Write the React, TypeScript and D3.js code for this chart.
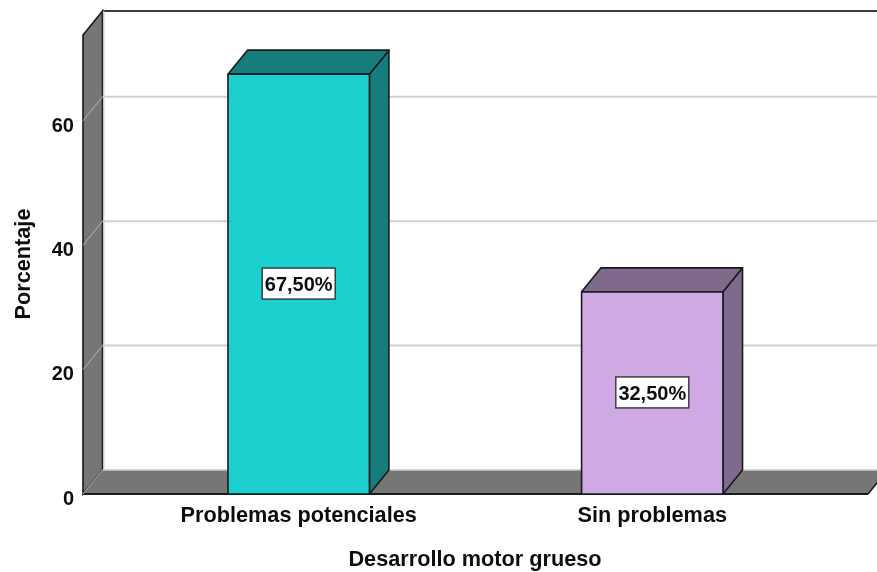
import React from "react";
import * as d3 from "d3";

const categories = ["Problemas potenciales", "Sin problemas"];
const values = [67.5, 32.5];
const valueLabels = ["67,50%", "32,50%"];
const frontColors = ["#1CCFCF", "#CEA9E4"];
const darkColors = ["#147B7B", "#806A8C"];
const yTicks = [0, 20, 40, 60];
const yMax = 73.8;
const gridTicks = [20, 40, 60];

const W = 877, H = 572;
const left = 83, right = 868, bottom = 494;
const dx = 19.5, dy = -24;

const y = d3.scaleLinear().domain([0, yMax]).range([bottom, bottom - yMax * 6.22]);
const x = d3.scaleBand<string>().domain(categories).range([left, right]).paddingInner(0.6).paddingOuter(0.41);
const line = d3.line();
const poly = (p: [number, number][]) => line(p)! + "Z";
const font = "'Liberation Sans', Arial, sans-serif";
const wall = "#767676";
const stroke = "#141c1c";

export default function App() {
  const top = y(yMax);
  return (
    <svg width={W} height={H} viewBox={`0 0 ${W} ${H}`} style={{ position: "absolute", left: 0, top: 0, background: "#fff" }} fontFamily={font}>
      <defs>
        <filter id="soft" x="-2%" y="-2%" width="104%" height="104%">
          <feGaussianBlur stdDeviation="0.35" />
        </filter>
      </defs>
      <g filter="url(#soft)">
        <path d={poly([[left + dx, bottom + dy], [left + dx, top + dy], [right + dx, top + dy], [right + dx, bottom + dy]])} fill="#fff" stroke="none" />
        <line x1={left + dx} x2={W + 20} y1={top + dy} y2={top + dy} stroke="#3a3a3a" strokeWidth={2} />
        {/* left wall */}
        <path d={poly([[left, bottom], [left, top], [left + dx, top + dy], [left + dx, bottom + dy]])} fill={wall} stroke={stroke} strokeWidth={1.6} />
        <line x1={left + dx + 1.2} x2={left + dx + 1.2} y1={top + dy} y2={bottom + dy} stroke="#c8c8c8" strokeWidth={1.5} />
        {/* floor */}
        <path d={poly([[left, bottom], [left + dx, bottom + dy], [right + dx, bottom + dy], [right, bottom]])} fill={wall} stroke="none" />
        <line x1={left + dx} x2={W + 20} y1={bottom + dy} y2={bottom + dy} stroke="#c8c8c8" strokeWidth={1.5} />
        <line x1={left} x2={right} y1={bottom} y2={bottom} stroke={stroke} strokeWidth={2} />
        <line x1={right} x2={right + dx} y1={bottom} y2={bottom + dy} stroke={stroke} strokeWidth={1.5} />
        <line x1={left} x2={left + dx} y1={bottom} y2={bottom + dy} stroke="#b0b0b0" strokeWidth={1} />
        {/* gridlines */}
        {gridTicks.map((t) => (
          <g key={t}>
            <line x1={left + dx} x2={W + 20} y1={y(t) + dy} y2={y(t) + dy} stroke="#d0d0d0" strokeWidth={2} />
            <line x1={left} x2={left + dx} y1={y(t)} y2={y(t) + dy} stroke="#b4b4b4" strokeWidth={1} />
          </g>
        ))}
        {/* bars */}
        {categories.map((c, i) => {
          const x0 = x(c)!;
          const x1 = x0 + x.bandwidth();
          const yt = y(values[i]);
          return (
            <g key={c} stroke={stroke} strokeWidth={1.6} strokeLinejoin="round">
              <path d={poly([[x1, bottom], [x1, yt], [x1 + dx, yt + dy], [x1 + dx, bottom + dy]])} fill={darkColors[i]} />
              <path d={poly([[x0, yt], [x0 + dx, yt + dy], [x1 + dx, yt + dy], [x1, yt]])} fill={darkColors[i]} />
              <rect x={x0} y={yt} width={x.bandwidth()} height={bottom - yt} fill={frontColors[i]} />
            </g>
          );
        })}
        {/* value labels */}
        {categories.map((c, i) => {
          const cx = x(c)! + x.bandwidth() / 2;
          const cy = y(values[i] / 2) - 0.5;
          return (
            <g key={c}>
              <rect x={cx - 36.5} y={cy - 15.5} width={73} height={31} fill="#fff" stroke="#333" strokeWidth={1.4} />
              <text x={cx} y={cy} dy="0.36em" textAnchor="middle" fontSize={20} fontWeight={700} fill="#111">{valueLabels[i]}</text>
            </g>
          );
        })}
        {/* y ticks */}
        {yTicks.map((t) => (
          <text key={t} x={74} y={y(t) + 3.5} dy="0.36em" textAnchor="end" fontSize={20} fontWeight={700} fill="#111">{t}</text>
        ))}
        {/* category labels */}
        {categories.map((c) => (
          <text key={c} x={x(c)! + x.bandwidth() / 2} y={522} textAnchor="middle" fontSize={21.7} fontWeight={700} fill="#111">{c}</text>
        ))}
        <text x={475} y={566} textAnchor="middle" fontSize={21.7} fontWeight={700} fill="#111">Desarrollo motor grueso</text>
        <text transform="translate(30,264) rotate(-90)" textAnchor="middle" fontSize={21.7} fontWeight={700} fill="#111">Porcentaje</text>
      </g>
    </svg>
  );
}
